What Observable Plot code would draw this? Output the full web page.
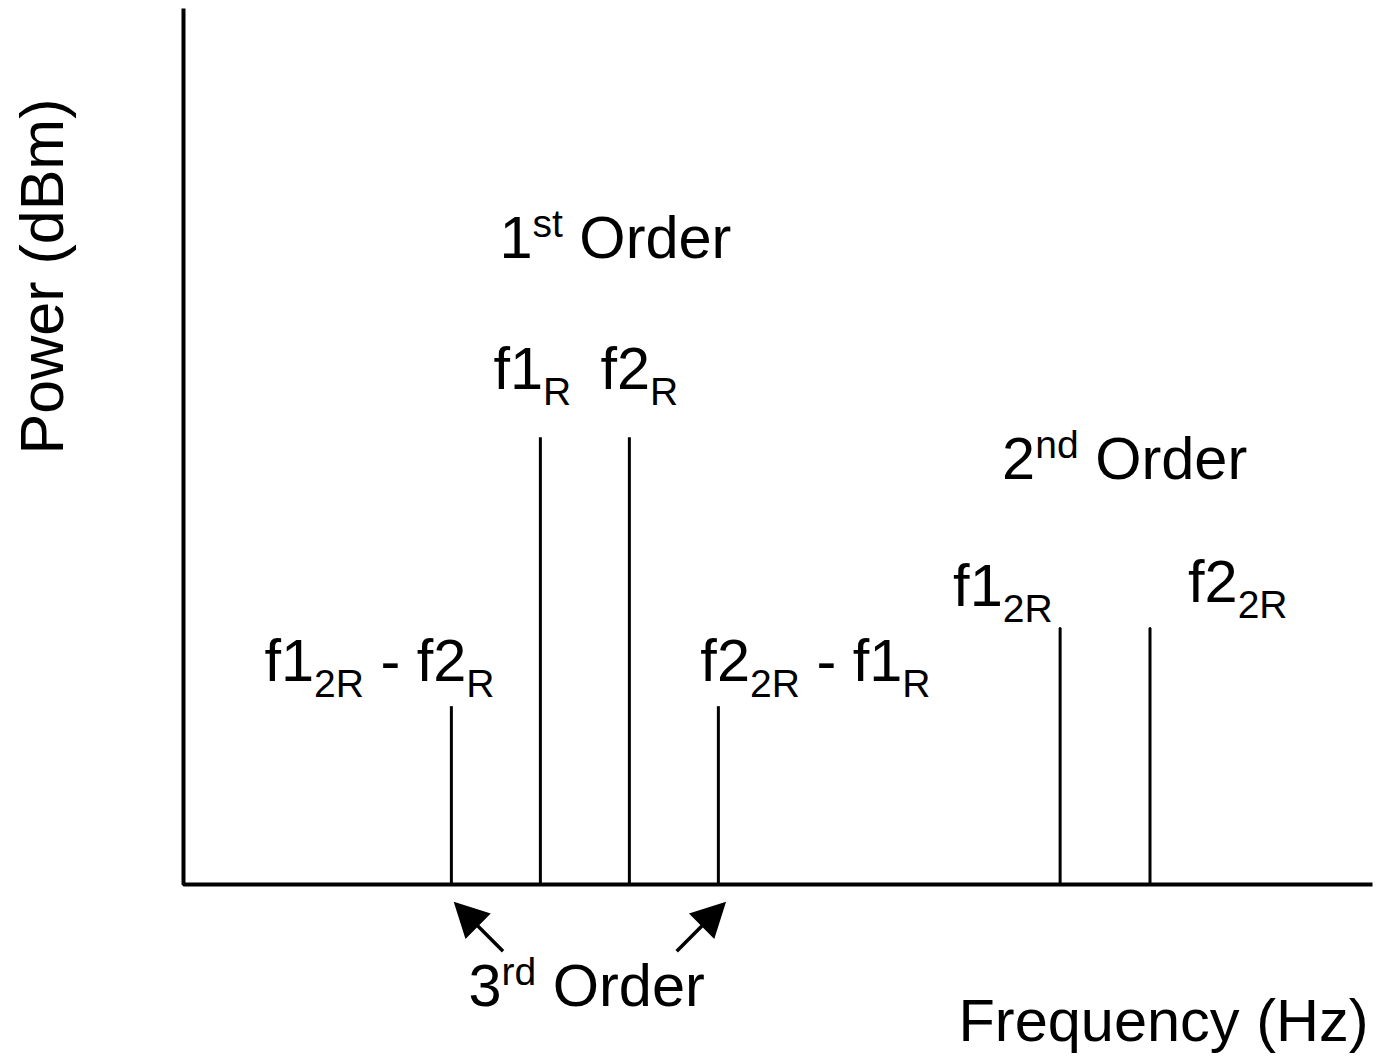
<!DOCTYPE html>
<html>
<head>
<meta charset="utf-8">
<script src="https://cdn.jsdelivr.net/npm/d3@7"></script>
<script src="https://cdn.jsdelivr.net/npm/@observablehq/plot@0.6"></script>
<style>
  html, body { margin: 0; padding: 0; background: #fff; }
  svg text { white-space: pre; }
</style>
</head>
<body>
<script>
// Spectral lines of a two-tone mixer output (arbitrary frequency / power units).
// Markup: _{...} is a subscript, ^{...} a superscript.
const lineNames  = ["f1_{2R} - f2_{R}", "f1_{R}", "f2_{R}", "f2_{2R} - f1_{R}", "f1_{2R}", "f2_{2R}"];
const lineFreq   = [3.01, 4.01, 5.01, 6.01, 9.85, 10.86];
const linePower  = [20.3, 51, 51, 20.3, 28.7, 28.7];
const lineOrder  = [3, 1, 1, 3, 2, 2];

const orderTitles = {1: "1^{st} Order", 2: "2^{nd} Order", 3: "3^{rd} Order"};
const xTitle = "Frequency (Hz)";
const yTitle = "Power (dBm)";

const xMax = 13.36;
const yMax = 100;

const lines = lineNames.map((name, i) => ({
  name, freq: lineFreq[i], power: linePower[i], order: lineOrder[i]
}));

const FONT = 59.5;
const SMALL = 39;
const SUB_DY = 16;
const SUP_DY = -21;

// Label placement relative to the top of each line (pixels: start x, baseline y)
const labelOffset = [
  {dx: -187, dy: -26},
  {dx: -47,  dy: -49},
  {dx: -29,  dy: -49},
  {dx: -18,  dy: -26},
  {dx: -107, dy: -27},
  {dx: 38,   dy: -31}
];

const textStyle = {textAnchor: "start", lineAnchor: "bottom", fontSize: FONT, fill: "#000"};

const labelMarks = lines.map((d, i) =>
  Plot.text([d], {x: "freq", y: "power", text: "name", ...textStyle, ...labelOffset[i]})
);

// Group titles, placed relative to the first line of each order
const firstOf = (o) => lines.find((d) => d.order === o);
const titleMarks = [
  Plot.text([firstOf(1)], {x: "freq", y: "power", text: () => orderTitles[1], ...textStyle, dx: -41, dy: -180}),
  Plot.text([firstOf(2)], {x: "freq", y: "power", text: () => orderTitles[2], ...textStyle, dx: -58, dy: -154}),
  Plot.text([firstOf(3)], {x: "freq", y: () => 0, text: () => orderTitles[3], ...textStyle, dx: 17, dy: 121})
];

// Filled-head arrow for the vector mark
const filledArrow = {
  draw(ctx, l) {
    const h = 29, w = 15;
    ctx.moveTo(0, 0);
    ctx.lineTo(0, -l + h);
    ctx.moveTo(0, -l);
    ctx.lineTo(w, -l + h);
    ctx.lineTo(-w, -l + h);
    ctx.closePath();
  }
};

const thirdOrder = lines.filter((d) => d.order === 3);

const chart = Plot.plot({
  width: 1376,
  height: 1056,
  marginLeft: 183,
  marginRight: 4,
  marginTop: 8,
  marginBottom: 172,
  style: {fontFamily: "'Liberation Sans', Arial, Helvetica, sans-serif", background: "#fff", color: "#000", overflow: "visible"},
  x: {domain: [0, xMax], axis: null},
  y: {domain: [0, yMax], axis: null},
  marks: [
    // Axes drawn as one L-shaped polyline
    Plot.line([{x: 0, y: yMax}, {x: 0, y: 0}, {x: xMax, y: 0}], {
      x: "x", y: "y", stroke: "#000", strokeWidth: 4, strokeLinejoin: "miter", strokeLinecap: "butt"
    }),
    // 1st and 3rd order lines rest on the axis
    Plot.ruleX(lines.filter((d) => d.order !== 2), {
      x: "freq", y1: 0, y2: "power", stroke: "#000", strokeWidth: 3, strokeLinecap: "butt"
    }),
    // 2nd order lines stop just short of the axis
    Plot.ruleX(lines.filter((d) => d.order === 2), {
      x: "freq", y1: 0, y2: "power", insetBottom: 4, stroke: "#000", strokeWidth: 3, strokeLinecap: "round"
    }),
    // Arrows pointing at the 3rd order products
    Plot.vector(thirdOrder, {
      x: "freq", y: () => 0,
      rotate: (d, i) => (i === 0 ? -45 : 45),
      length: 66, anchor: "end", shape: filledArrow,
      dx: 5, dy: 20,
      fill: "#000", stroke: "#000", strokeWidth: 3.5, strokeLinejoin: "miter", strokeLinecap: "butt"
    }),
    ...labelMarks,
    ...titleMarks,
    // Axis titles
    Plot.text([xTitle], {frameAnchor: "bottom-right", text: (d) => d, textAnchor: "end", lineAnchor: "bottom",
      fontSize: FONT, fill: "#000", dx: -4, dy: 156}),
    Plot.text([yTitle], {frameAnchor: "left", text: (d) => d, textAnchor: "middle", lineAnchor: "bottom",
      rotate: -90, fontSize: 61, fill: "#000", dx: -121, dy: -170})
  ]
});

// Turn _{..} / ^{..} markup into subscript / superscript tspans
const NS = "http://www.w3.org/2000/svg";
function richText(el) {
  const s = el.textContent;
  if (!/[_^]\{/.test(s)) return;
  while (el.firstChild) el.removeChild(el.firstChild);
  const re = /([_^])\{([^}]*)\}/g;
  let last = 0, shift = 0, m;
  const add = (str, size, dy) => {
    const t = document.createElementNS(NS, "tspan");
    t.textContent = str;
    if (size) t.setAttribute("font-size", size);
    if (dy) t.setAttribute("dy", dy);
    el.appendChild(t);
  };
  while ((m = re.exec(s))) {
    if (m.index > last) { add(s.slice(last, m.index), null, -shift); shift = 0; }
    const d = m[1] === "_" ? SUB_DY : SUP_DY;
    add(m[2], SMALL, d - shift);
    shift = d;
    last = re.lastIndex;
  }
  if (last < s.length) add(s.slice(last), null, -shift);
}
chart.querySelectorAll("text").forEach(richText);

document.body.appendChild(chart);
</script>
</body>
</html>
